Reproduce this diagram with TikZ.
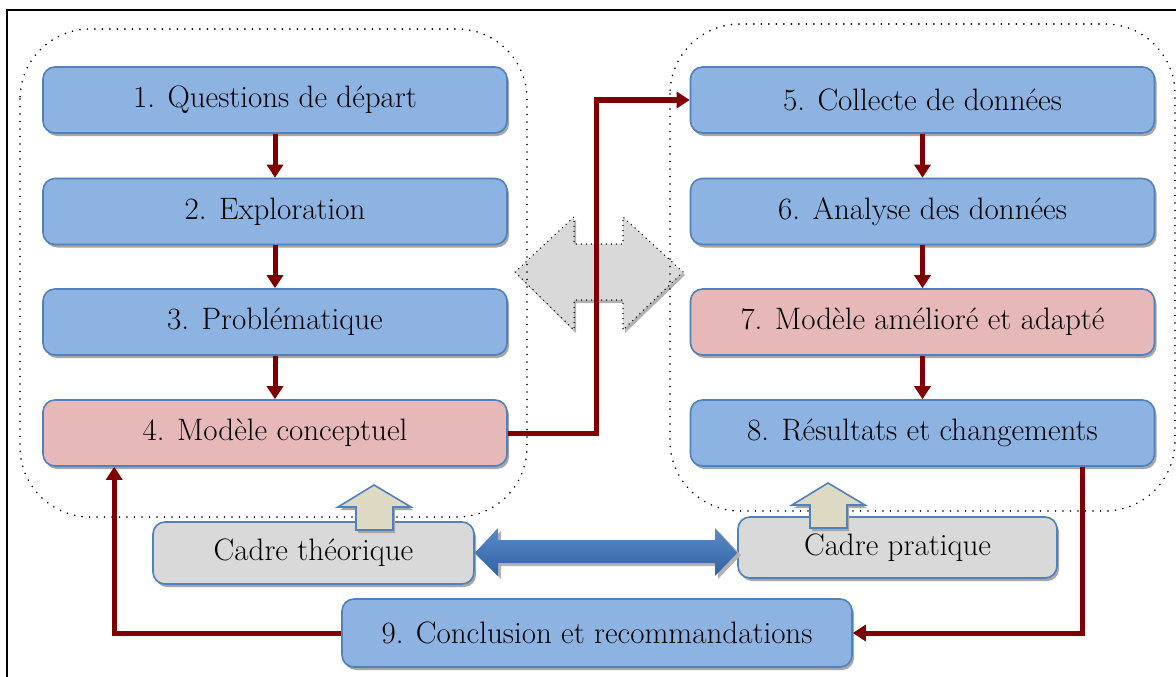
\documentclass[tikz,border=0pt]{standalone}
\usepackage{fontspec}
\usetikzlibrary{shadows,arrows.meta,calc}
\definecolor{boxblue}{HTML}{8DB3E2}
\definecolor{bordblue}{HTML}{4F81BD}
\definecolor{boxpink}{HTML}{E6B9B8}
\definecolor{boxgray}{HTML}{D9D9D9}
\definecolor{darkred}{HTML}{7F0000}
\definecolor{beige}{HTML}{DDD9C3}
\definecolor{arrowblue}{HTML}{3F75BA}
\definecolor{arrowbluedark}{HTML}{2E62A6}
\begin{document}
\begin{tikzpicture}[x=1pt,y=-1pt,
  shad/.style={drop shadow={shadow xshift=2pt,shadow yshift=-3pt,fill=black!35,opacity=1}},
  stepbox/.style={draw=bordblue,line width=1.6pt,fill=boxblue,rounded corners=12pt,
    minimum width=464pt,minimum height=66pt,inner sep=0pt,shad,
    font=\rmfamily\fontsize{31}{36}\selectfont},
  pinkbox/.style={stepbox,fill=boxpink},
  framebox/.style={stepbox,fill=boxgray},
  region/.style={draw=black,line width=1.8pt,dash pattern=on 0pt off 7.5pt,line cap=round,rounded corners=70pt},
  redline/.style={draw=darkred,line width=5pt,-{Triangle[length=13pt,width=16pt]}},
  uparrow/.style={draw=bordblue,line width=1.6pt,fill=beige,line join=miter,shad}
]
\useasboundingbox (0,0) rectangle (1176,677);
\fill[white] (0,0) rectangle (1176,677);
\draw[black,line width=1.5pt] (7,10) rectangle (1200,700);

% gray double arrow
\fill[black!30] ($(515,272)+(2,3)$) -- ++(59,-55) -- ++(0,27) -- ++(49,0) -- ++(0,-27) -- ++(60,55) -- ++(-60,58) -- ++(0,-30) -- ++(-49,0) -- ++(0,30) -- cycle;
\draw[fill=boxgray,draw=black,line width=1.5pt,dash pattern=on 0pt off 5pt,line cap=round]
  (515,272) -- (574,217) -- (574,244) -- (623,244) -- (623,217) -- (683,272)
  -- (623,330) -- (623,300) -- (574,300) -- (574,330) -- cycle;

% dotted regions
\draw[region] (20,29) rectangle (527,517);
\draw[region] (670,24) rectangle (1175,511);

% boxes
\node[stepbox] (b1) at (275,100) {1. Questions de départ};
\node[stepbox] (b2) at (275,211.5) {2. Exploration};
\node[stepbox] (b3) at (275,322) {3. Problématique};
\node[pinkbox] (b4) at (275,433) {4. Modèle conceptuel};
\node[stepbox] (b5) at (922.5,100) {5. Collecte de données};
\node[stepbox] (b6) at (922.5,211.5) {6. Analyse des données};
\node[pinkbox] (b7) at (922.5,322) {7. Modèle amélioré et adapté};
\node[stepbox] (b8) at (922.5,433) {8. Résultats et changements};
\node[framebox,minimum width=321pt,minimum height=62pt] (ct) at (313.5,553) {Cadre théorique};
\node[framebox,minimum width=319pt,minimum height=61pt] (cp) at (897.5,547.5) {Cadre pratique};
\node[stepbox,minimum width=510pt,minimum height=68pt] (b9) at (597,633) {9. Conclusion et recommandations};

% up arrows
\draw[uparrow] (356,530) -- (356,507) -- (338,507) -- (374,485) -- (411,507) -- (393,507) -- (393,530) -- cycle;
\draw[uparrow] (810,528) -- (810,505) -- (792,505) -- (828,483) -- (865,505) -- (847,505) -- (847,528) -- cycle;

% blue double arrow
\fill[black!30] (476,555) -- (501,531) -- (501,543) -- (718,543) -- (718,531) -- (741,555) -- (718,579) -- (718,566) -- (501,566) -- (501,579) -- cycle;
\shade[top color=arrowblue!85!white,bottom color=arrowbluedark]
  (ct.east) -- (498,528) -- (498,540) -- (715,540) -- (715,528) -- (cp.west|-ct.east) -- (715,576) -- (715,563) -- (498,563) -- (498,576) -- cycle;

% red connectors
\draw[redline] (b1.south) -- (b2.north);
\draw[redline] (b2.south) -- (b3.north);
\draw[redline] (b3.south) -- (b4.north);
\draw[redline] (b5.south) -- (b6.north);
\draw[redline] (b6.south) -- (b7.north);
\draw[redline] (b7.south) -- (b8.north);
\draw[redline,line join=miter] (b4.east) -- ++(89,0) |- (b5.west);
\draw[redline,line join=miter] ([xshift=-73pt]b8.south east) |- (b9.east);
\draw[redline,line join=miter] (b9.west) -| ([xshift=72pt]b4.south west);
\end{tikzpicture}
\end{document}
